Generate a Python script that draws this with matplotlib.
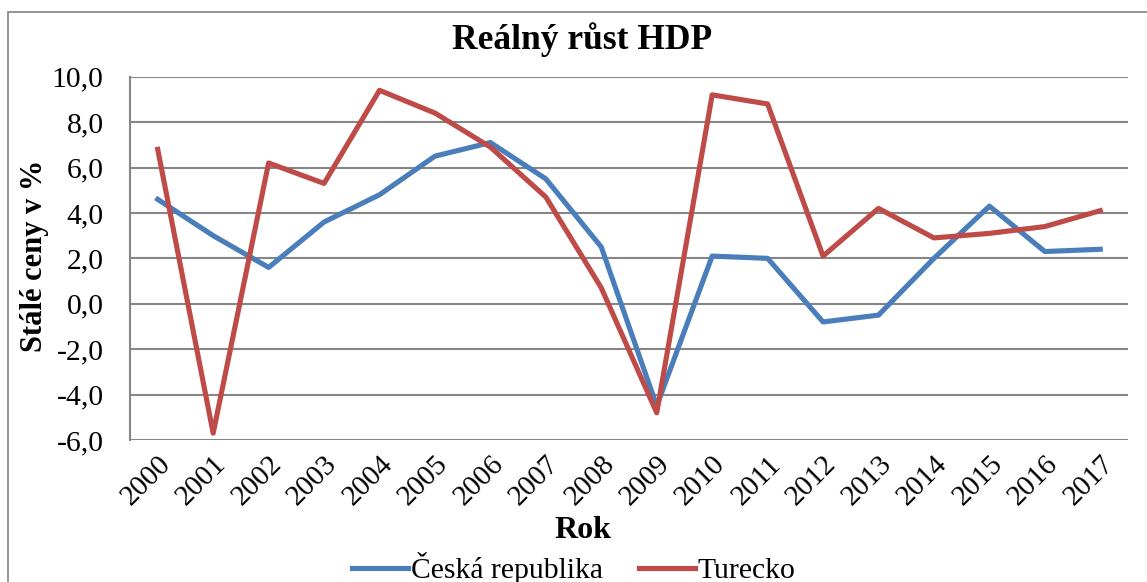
import matplotlib
matplotlib.use("Agg")
import matplotlib.pyplot as plt
import matplotlib.transforms as mtransforms
from matplotlib.patches import Rectangle

years = [str(y) for y in range(2000, 2018)]
czech = [4.6, 3.0, 1.6, 3.6, 4.8, 6.5, 7.1, 5.5, 2.5, -4.5,
         2.1, 2.0, -0.8, -0.5, 2.0, 4.3, 2.3, 2.4]
turkey = [6.8, -5.7, 6.2, 5.3, 9.4, 8.4, 6.9, 4.7, 0.7, -4.8,
          9.2, 8.8, 2.1, 4.2, 2.9, 3.1, 3.4, 4.1]
yticks = [-6, -4, -2, 0, 2, 4, 6, 8, 10]
ytick_labels = ["-6,0", "-4,0", "-2,0", "0,0", "2,0", "4,0", "6,0", "8,0", "10,0"]

plt.rcParams['font.family'] = ['Liberation Serif', 'DejaVu Serif']

W, H = 1147, 582
fig = plt.figure(figsize=(W / 100, H / 100), dpi=100)

# outer chart border
fig.patches.append(Rectangle((8 / W, -0.05), 1.2, (582 - 12) / H + 0.05,
                             transform=fig.transFigure, fill=False,
                             edgecolor='#8c8c8c', linewidth=1.3))

ax = fig.add_axes([130 / W, (582 - 440) / H, (1128 - 130) / W, (440 - 76.7) / H])
x = list(range(len(years)))
ax.plot(x, czech, color='#4A7EBB', lw=3.7, label='Česká republika', solid_joinstyle='round')
ax.plot(x, turkey, color='#BE4B48', lw=3.7, label='Turecko', solid_joinstyle='round')

ax.set_xlim(-0.5, len(years) - 0.5)
ax.set_ylim(-6, 10)
ax.set_yticks(yticks)
ax.set_yticklabels(ytick_labels, fontsize=21.3)
ax.set_xticks(x)
ax.set_xticklabels(years, fontsize=21, rotation=45, ha='right', rotation_mode='anchor')
offset = mtransforms.ScaledTranslation(0.07, -0.09, fig.dpi_scale_trans)
for lab in ax.get_xticklabels():
    lab.set_transform(lab.get_transform() + offset)

ax.grid(axis='y', color='#868686', linewidth=1.5)
ax.set_axisbelow(True)
for s in ['top', 'right', 'bottom']:
    ax.spines[s].set_visible(False)
ax.spines['left'].set_color('#868686')
ax.spines['left'].set_linewidth(1.5)
ax.tick_params(axis='y', length=0, pad=19)
ax.tick_params(axis='x', length=0, pad=8)

fig.text(582 / W, 1 - 40 / H, 'Reálný růst HDP', ha='center', va='center',
         fontsize=25.5, fontweight='bold')
fig.text(35 / W, 1 - 256 / H, 'Stálé ceny v %', ha='center', va='center',
         rotation=90, fontsize=22, fontweight='bold')
fig.text(583 / W, 1 - 530 / H, 'Rok', ha='center', va='center',
         fontsize=23, fontweight='bold')

handles, labels = ax.get_legend_handles_labels()
fig.legend(handles, labels, loc='center', bbox_to_anchor=(574 / W, 1 - 568 / H),
           ncol=2, frameon=False, fontsize=21.3, handlelength=1.9,
           handletextpad=0.1, columnspacing=1.2)

fig.savefig('out.png', dpi=100)
